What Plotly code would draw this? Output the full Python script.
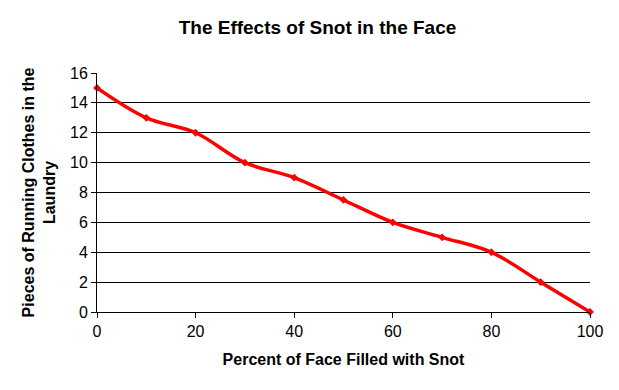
import plotly.graph_objects as go

percent_snot = [0, 10, 20, 30, 40, 50, 60, 70, 80, 90, 100]
clothes = [15, 13, 12, 10, 9, 7.5, 6, 5, 4, 2, 0]
y_ticks = [0, 2, 4, 6, 8, 10, 12, 14, 16]
grid_vals = [2, 4, 6, 8, 10, 12, 14]
x_ticks = [0, 20, 40, 60, 80, 100]

FONT = "Liberation Sans, Arial, sans-serif"

fig = go.Figure()
fig.add_trace(go.Scatter(
    x=percent_snot, y=clothes, mode="lines+markers",
    line=dict(color="#ff0000", width=3.5, shape="spline", smoothing=1.0),
    marker=dict(symbol="diamond", size=6, color="#ff0000"),
    showlegend=False, cliponaxis=False,
))
fig.add_trace(go.Scatter(x=[None], y=[None], yaxis="y2", showlegend=False, hoverinfo="skip"))

fig.update_layout(
    width=619, height=390,
    margin=dict(l=89, r=37, t=65, b=86),
    paper_bgcolor="white", plot_bgcolor="white",
    font=dict(family=FONT, color="black"),
    title=dict(text="<b>The Effects of Snot in the Face</b>", x=0.5, xanchor="center",
               y=0.951, yanchor="middle", font=dict(size=19, family=FONT)),
    xaxis=dict(range=[0, 100], tickvals=x_ticks, showgrid=False, zeroline=False,
               showline=True, linecolor="black", linewidth=1,
               ticks="outside", ticklen=5, tickcolor="black",
               tickfont=dict(size=16, family=FONT),
               title=dict(text="<b>Percent of Face Filled with Snot</b>", font=dict(size=16, family=FONT), standoff=14)),
    yaxis=dict(range=[0, 16], tickvals=y_ticks, showgrid=False, zeroline=False,
               showline=True, linecolor="black", linewidth=1,
               ticks="outside", ticklen=5, tickcolor="black",
               tickfont=dict(size=16, family=FONT),
               title=dict(text="<b>Pieces of Running Clothes in the<br>Laundry</b>", font=dict(size=16, family=FONT), standoff=10)),
    yaxis2=dict(range=[0, 16], overlaying="y", tickvals=grid_vals, showgrid=True,
                gridcolor="black", gridwidth=1, showticklabels=False, ticks="",
                zeroline=False, showline=False, side="left"),
)

fig.write_html("out.html")
